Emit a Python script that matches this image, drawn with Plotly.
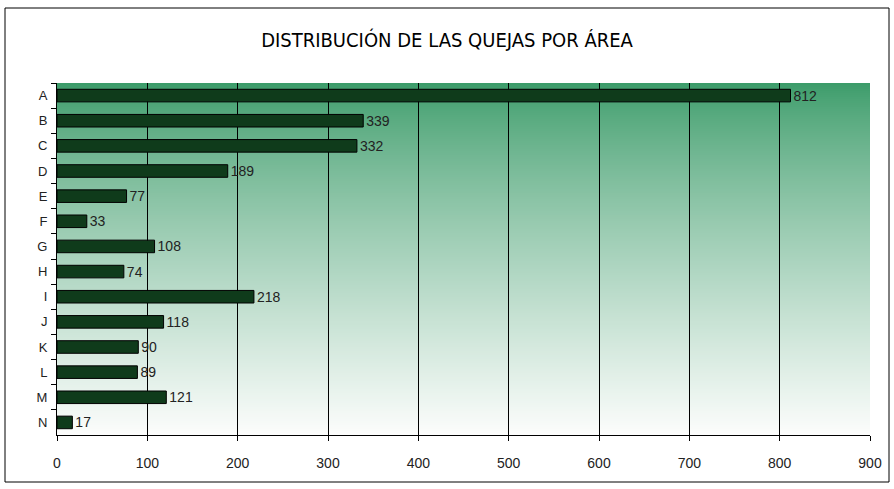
import plotly.graph_objects as go

areas = ["A", "B", "C", "D", "E", "F", "G", "H", "I", "J", "K", "L", "M", "N"]
quejas = [812, 339, 332, 189, 77, 33, 108, 74, 218, 118, 90, 89, 121, 17]
x_ticks = [0, 100, 200, 300, 400, 500, 600, 700, 800, 900]
title_text = "DISTRIBUCIÓN DE LAS QUEJAS POR ÁREA"

fig = go.Figure(go.Bar(
    y=areas, x=quejas, orientation="h",
    marker=dict(color="#0f3b1b", line=dict(color="#000000", width=1)),
    text=[str(v) for v in quejas], textposition="outside", constraintext="none",
    textfont=dict(family="Liberation Sans, Arial", size=14, color="#222222"),
    cliponaxis=False,
))

# vertical gradient background for the plot area (bands)
shapes = []
n = 176
top = (60, 156, 106)
bot = (252, 253, 252)
for i in range(n):
    t = i / (n - 1)
    t2 = t ** 0.8
    c = tuple(int(top[k] + (bot[k] - top[k]) * t2) for k in range(3))
    shapes.append(dict(type="rect", xref="x domain", yref="y domain",
                       x0=0, x1=1, y0=1 - (i + 1) / n, y1=1 - i / n,
                       fillcolor="rgb(%d,%d,%d)" % c, line=dict(width=0),
                       layer="below"))
# outer frame
shapes.append(dict(type="rect", xref="paper", yref="paper",
                   x0=(5 - 57) / 813, x1=1 + (889 - 870) / 813,
                   y0=-(482 - 435) / 352, y1=1 + (83 - 8) / 352,
                   line=dict(color="#000000", width=1), fillcolor="rgba(0,0,0,0)",
                   layer="below"))

fig.update_layout(
    width=894, height=489,
    margin=dict(l=57, r=24, t=83, b=54),
    paper_bgcolor="#ffffff", plot_bgcolor="rgba(0,0,0,0)",
    showlegend=False, bargap=0.5,
    shapes=shapes,
    title=dict(text=title_text, x=0.5, xanchor="center", y=1 - 40 / 489, yanchor="middle",
               font=dict(family="DejaVu Sans Condensed, DejaVu Sans", size=20, color="#000000")),
    xaxis=dict(range=[0, 900], tickvals=x_ticks, ticktext=[str(v) for v in x_ticks],
               showgrid=True, gridcolor="#000000", gridwidth=1,
               showline=True, linecolor="#000000", linewidth=1,
               ticks="outside", ticklen=5, tickcolor="#000000", ticklabelstandoff=10,
               tickfont=dict(family="Liberation Sans, Arial", size=14, color="#222222"),
               zeroline=False, fixedrange=True, automargin=False),
    yaxis=dict(autorange="reversed", type="category",
               showline=True, linecolor="#000000", linewidth=1,
               ticks="outside", ticklen=5, tickcolor="#000000", tickson="boundaries",
               ticklabelstandoff=6,
               tickfont=dict(family="Liberation Sans, Arial", size=13, color="#222222"),
               showgrid=False, fixedrange=True, automargin=False),
)

fig.write_html("out.html", config={"displayModeBar": False},
               post_script="document.body.style.margin='0';")
